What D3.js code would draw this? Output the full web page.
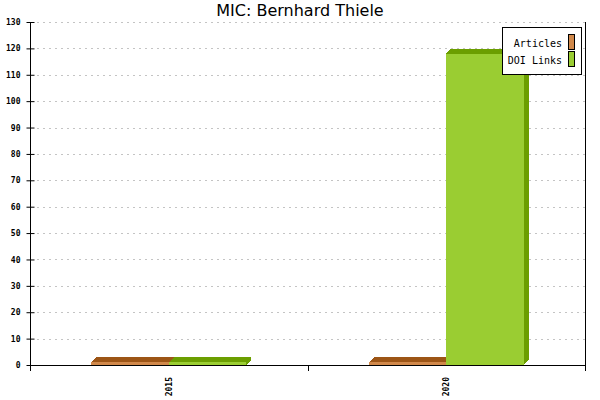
<!DOCTYPE html>
<html><head><meta charset="utf-8">
<script src="https://cdn.jsdelivr.net/npm/d3@7/dist/d3.min.js"></script>
<style>body{margin:0;background:#fff}svg{display:block}</style>
</head><body><svg id="c" width="600" height="400"></svg>
<script>
const title = "MIC: Bernhard Thiele";
const categories = ["2015", "2020"];
const seriesNames = ["Articles", "DOI Links"];
const articles = [1, 1];
const doiLinks = [1, 118];
const yTicks = [0,10,20,30,40,50,60,70,80,90,100,110,120,130];
const frontColors = ["#d0884a", "#9acd32"];
const darkColors = ["#9c5516", "#6b9e00"];

const svg = d3.select("#c");
const W = 600, H = 400;
const m = {left: 30, right: 15, top: 22, bottom: 35};
const x0 = m.left, x1 = W - m.right, yB = H - m.bottom, yT = m.top;
const depth = 5;

const y = d3.scaleLinear().domain([0, 130]).range([yB, yT]);
const xCat = d3.scaleBand().domain(categories).range([x0, x1]).padding(0);
const xGroup = d3.scaleBand().domain(categories).range([x0, x1]).paddingInner(0.4414).paddingOuter(0.2207);
const xSer = d3.scaleBand().domain(seriesNames).range([0, xGroup.bandwidth()]).padding(0);

// title
svg.append("text").attr("x", W/2).attr("y", 16).attr("text-anchor", "middle")
  .attr("font-family", "DejaVu Sans").attr("font-size", 16).attr("fill", "#000").text(title);

// gridlines
svg.append("g").attr("shape-rendering", "crispEdges").selectAll("line").data(yTicks.filter(d => d > 0)).join("line")
  .attr("x1", x0 + 7).attr("x2", x1).attr("y1", d => Math.round(y(d)) + 0.5).attr("y2", d => Math.round(y(d)) + 0.5)
  .attr("stroke", "#c4c4c4").attr("stroke-dasharray", "2,4");

// y axis
const yAxis = d3.axisLeft(y).tickValues(yTicks).tickSize(0).tickPadding(10);
const gy = svg.append("g").attr("transform", `translate(${x0 + 0.5},0)`).call(yAxis);
gy.select(".domain").remove();
gy.selectAll("text").attr("font-family", "DejaVu Sans Mono").attr("font-size", 8).attr("font-weight", "bold").attr("fill", "#000");
gy.selectAll(".tick").append("line").attr("x1", -4).attr("x2", 4).attr("stroke", "#000");
svg.append("line").attr("x1", x0 + 0.5).attr("x2", x0 + 0.5).attr("y1", yT).attr("y2", yB + 6).attr("stroke", "#000");
svg.append("line").attr("x1", x1 + 0.5).attr("x2", x1 + 0.5).attr("y1", yT).attr("y2", yB + 6).attr("stroke", "#000");

// bars
const seriesData = [articles, doiLinks];
const bars = [];
categories.forEach((c, ci) => {
  seriesNames.forEach((s, si) => {
    bars.push({cat: c, ser: s, si, v: seriesData[si][ci]});
  });
});
const gb = svg.append("g").attr("shape-rendering", "crispEdges");
bars.forEach(b => {
  const bx = xGroup(b.cat) + xSer(b.ser);
  const bw = xSer.bandwidth();
  const top = y(b.v), bot = y(0);
  const g = gb.append("g");
  g.append("rect").attr("x", bx).attr("y", top).attr("width", bw).attr("height", bot - top).attr("fill", frontColors[b.si]);
  g.append("polygon").attr("points", [[bx, top], [bx + depth, top - depth], [bx + bw + depth, top - depth], [bx + bw, top]].join(" "))
    .attr("fill", darkColors[b.si]);
  g.append("polygon").attr("points", [[bx + bw, top], [bx + bw + depth, top - depth], [bx + bw + depth, bot - depth], [bx + bw, bot]].join(" "))
    .attr("fill", darkColors[b.si]);
});

// x axis
svg.append("line").attr("x1", x0).attr("x2", x1 + 1).attr("y1", yB + 0.5).attr("y2", yB + 0.5).attr("stroke", "#000");
const xTickPos = categories.map(c => xCat(c)).concat([x1]);
svg.append("g").selectAll("line").data(xTickPos).join("line")
  .attr("x1", d => Math.round(d) + 0.5).attr("x2", d => Math.round(d) + 0.5).attr("y1", yB).attr("y2", yB + 6).attr("stroke", "#000");
svg.append("g").selectAll("text").data(categories).join("text")
  .attr("transform", d => `translate(${xCat(d) + xCat.bandwidth()/2 + 3},${yB + 12}) rotate(-90)`)
  .attr("text-anchor", "end").attr("font-family", "DejaVu Sans Mono").attr("font-size", 8).attr("font-weight", "bold").text(d => d);

// legend
const lg = svg.append("g");
lg.append("rect").attr("x", 502.5).attr("y", 27.5).attr("width", 79).attr("height", 47).attr("fill", "#fff").attr("stroke", "#000");
seriesNames.forEach((s, i) => {
  lg.append("text").attr("x", 562).attr("y", 47 + i * 17).attr("text-anchor", "end")
    .attr("font-family", "DejaVu Sans Mono").attr("font-size", 10).attr("fill", "#000").text(s);
  lg.append("rect").attr("x", 568.5).attr("y", 34.5 + i * 17).attr("width", 6).attr("height", 15)
    .attr("fill", frontColors[i]).attr("stroke", "#000");
});
</script></body></html>
